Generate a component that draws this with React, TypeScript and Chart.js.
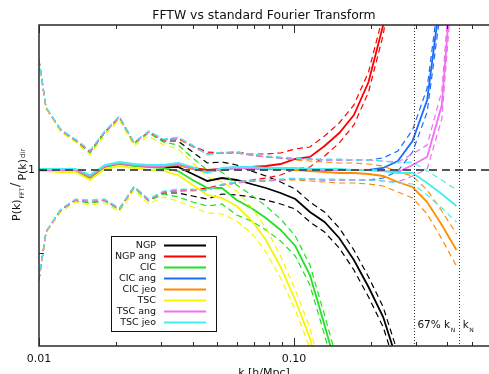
import React, { useEffect, useRef } from "react";
import { Chart, registerables } from "chart.js";

Chart.register(...registerables);

// wavenumbers of the binned spectrum (h/Mpc)
const kValues = [
  0.00934, 0.01066, 0.01217, 0.01389, 0.01586, 0.0181, 0.02066, 0.02359, 0.02693, 0.03074,
  0.03509, 0.04005, 0.04572, 0.05219, 0.05958, 0.06801, 0.07763, 0.08862, 0.1012, 0.1155,
  0.1318, 0.1505, 0.1718, 0.1961, 0.2238, 0.2555, 0.2917, 0.3329, 0.3801, 0.4338,
];

// 1-sigma half width of the ratio (dashed curves)
const errBand = [
  0.16, 0.062, 0.04, 0.03, 0.025, 0.034, 0.046, 0.022, 0.034, 0.026,
  0.026, 0.022, 0.018, 0.016, 0.015, 0.013, 0.012, 0.011, 0.01, 0.01,
  0.01, 0.01, 0.01, 0.01, 0.01, 0.01, 0.011, 0.012, 0.014, 0.016,
];

const ngp = [
  1.0, 1.0, 1.0, 1.0, 0.993, 1.004, 1.007, 1.005, 1.004, 1.003,
  1.003, 0.996, 0.989, 0.992, 0.99, 0.986, 0.982, 0.977, 0.971, 0.958,
  0.948, 0.932, 0.91, 0.883, 0.853, 0.807,
];
const ngpAng = [
  1.0, 1.0, 1.0, 1.0, 0.993, 1.004, 1.007, 1.005, 1.004, 1.004,
  1.005, 1.002, 1.0, 1.001, 1.003, 1.003, 1.004, 1.006, 1.011, 1.013,
  1.024, 1.037, 1.055, 1.088, 1.145, 1.24,
];
const cic = [
  1.0, 1.0, 0.999, 0.999, 0.992, 1.003, 1.006, 1.004, 1.003, 1.002,
  0.999, 0.99, 0.982, 0.982, 0.97, 0.962, 0.952, 0.94, 0.924, 0.895,
  0.845, 0.792,
];
const cicAng = [
  1.0, 1.0, 1.0, 1.0, 0.993, 1.004, 1.007, 1.005, 1.004, 1.004,
  1.006, 1.002, 0.998, 1.001, 1.002, 1.002, 1.001, 1.001, 1.001, 1.001,
  1.0, 1.0, 1.0, 1.0, 1.002, 1.009, 1.029, 1.07, 1.183,
];
const cicJeo = [
  1.0, 1.0, 1.0, 1.0, 0.993, 1.004, 1.007, 1.005, 1.004, 1.004,
  1.005, 1.001, 0.998, 1.001, 1.002, 1.002, 1.001, 1.001, 1.0, 0.999,
  0.998, 0.997, 0.997, 0.996, 0.994, 0.988, 0.983, 0.968, 0.945, 0.92,
];
const tsc = [
  0.999, 0.999, 0.998, 0.998, 0.99, 1.001, 1.004, 1.002, 1.0, 0.999,
  0.995, 0.985, 0.975, 0.972, 0.964, 0.95, 0.93, 0.903, 0.87, 0.832,
  0.775,
];
const tscAng = [
  1.0, 1.0, 1.0, 1.0, 0.994, 1.004, 1.007, 1.005, 1.004, 1.004,
  1.006, 1.002, 0.998, 1.001, 1.002, 1.002, 1.001, 1.001, 1.001, 1.001,
  1.0, 1.0, 1.0, 1.0, 0.999, 0.998, 1.005, 1.013, 1.065, 1.253,
];
const tscJeo = [
  1.001, 1.001, 1.001, 1.001, 0.995, 1.005, 1.008, 1.006, 1.005, 1.005,
  1.007, 1.003, 0.997, 1.002, 1.003, 1.003, 1.002, 1.002, 1.002, 1.001,
  1.001, 1.001, 1.0, 1.0, 0.999, 0.997, 0.997, 0.987, 0.976, 0.964,
];

const seriesNames = ["NGP", "NGP ang", "CIC", "CIC ang", "CIC jeo", "TSC", "TSC ang", "TSC jeo"];
const seriesColors = ["#000000", "#ff0000", "#22e022", "#1a6cff", "#ff8c00", "#f6f600", "#f070f0", "#40f0f0"];
const seriesValues = [ngp, ngpAng, cic, cicAng, cicJeo, tsc, tscAng, tscJeo];

// axis ticks
const xMajorTicks = [0.01, 0.1];
const xMajorLabels = ["0.01", "0.10"];
const xMinorTicks = [0.02, 0.03, 0.04, 0.05, 0.06, 0.07, 0.08, 0.09, 0.2, 0.3, 0.4, 0.5];
const yTicks = [1.0, 0.917];
const yTickLabels = ["1", ""];

const kNyquist = 0.443;
const nyquistFraction = 0.67;

const titleText = "FFTW vs standard Fourier Transform";
const xTitle = "k [h/Mpc]";

const FONT = "'DejaVu Sans', 'Liberation Sans', sans-serif";

const decorPlugin = {
  id: "decor",
  afterDatasetsDraw(chart: any) {
    const ctx = chart.ctx;
    const { left, right, top, bottom } = chart.chartArea;
    const xs = chart.scales.x;
    const ys = chart.scales.y;
    ctx.save();
    const y1 = ys.getPixelForValue(1);
    ctx.strokeStyle = "#555555";
    ctx.lineWidth = 2;
    ctx.setLineDash([8, 5]);
    ctx.beginPath();
    ctx.moveTo(left, y1);
    ctx.lineTo(right, y1);
    ctx.stroke();
    ctx.strokeStyle = "#333333";
    ctx.lineWidth = 1;
    ctx.setLineDash([1, 2]);
    [kNyquist * nyquistFraction, kNyquist].forEach((k) => {
      const x = Math.round(xs.getPixelForValue(k)) + 0.5;
      ctx.beginPath();
      ctx.moveTo(x, top);
      ctx.lineTo(x, bottom);
      ctx.stroke();
    });
    ctx.restore();
  },
  afterDraw(chart: any) {
    const ctx = chart.ctx;
    const { left, right, top, bottom } = chart.chartArea;
    const xs = chart.scales.x;
    const ys = chart.scales.y;
    ctx.save();
    ctx.setLineDash([]);
    ctx.strokeStyle = "#2a2a2a";
    ctx.lineWidth = 1.5;
    ctx.beginPath();
    ctx.moveTo(right, top);
    ctx.lineTo(left, top);
    ctx.lineTo(left, bottom);
    ctx.lineTo(right, bottom);
    ctx.stroke();

    ctx.lineWidth = 1;
    const tick = (k: number, len: number) => {
      const x = Math.round(xs.getPixelForValue(k)) + 0.5;
      ctx.beginPath();
      ctx.moveTo(x, bottom);
      ctx.lineTo(x, bottom - len);
      ctx.moveTo(x, top);
      ctx.lineTo(x, top + len);
      ctx.stroke();
    };
    xMinorTicks.forEach((k) => tick(k, 4));
    xMajorTicks.forEach((k) => tick(k, 8));

    ctx.fillStyle = "#111111";
    ctx.font = `11px ${FONT}`;
    ctx.textAlign = "center";
    ctx.textBaseline = "alphabetic";
    xMajorTicks.forEach((k, i) => {
      ctx.fillText(xMajorLabels[i], xs.getPixelForValue(k), 362);
    });
    ctx.fillText(xTitle, (left + right) / 2, 376);

    yTicks.forEach((v, i) => {
      const y = Math.round(ys.getPixelForValue(v)) + 0.5;
      ctx.beginPath();
      ctx.moveTo(left, y);
      ctx.lineTo(left + (yTickLabels[i] ? 8 : 5), y);
      ctx.stroke();
      if (yTickLabels[i]) {
        ctx.textAlign = "right";
        ctx.textBaseline = "middle";
        ctx.fillText(yTickLabels[i], left - 4, y);
      }
    });

    // title
    ctx.textAlign = "center";
    ctx.textBaseline = "alphabetic";
    ctx.font = `12.4px ${FONT}`;
    ctx.fillText(titleText, (left + right) / 2, 19);

    // y title (rotated)
    ctx.save();
    ctx.rotate(-Math.PI / 2);
    ctx.textAlign = "left";
    let pos = -221;
    ctx.font = `11px ${FONT}`;
    ctx.fillText("P(k)", pos, 20);
    pos += ctx.measureText("P(k)").width + 1;
    ctx.font = `6px ${FONT}`;
    ctx.fillText("FFT", pos, 24);
    pos += ctx.measureText("FFT").width + 1;
    ctx.font = `13px ${FONT}`;
    ctx.fillText("/", pos, 19);
    pos += ctx.measureText("/").width + 2;
    ctx.font = `11px ${FONT}`;
    ctx.fillText("P(k)", pos, 26);
    pos += ctx.measureText("P(k)").width + 1;
    ctx.font = `7px ${FONT}`;
    ctx.fillText("dir", pos, 25);
    ctx.restore();

    // Nyquist labels
    const drawK = (x: number, prefix: string) => {
      ctx.textAlign = "left";
      ctx.font = `10.5px ${FONT}`;
      ctx.fillText(prefix + "k", x, 328);
      const w = ctx.measureText(prefix + "k").width;
      ctx.font = `6px ${FONT}`;
      ctx.fillText("N", x + w + 0.5, 332);
    };
    drawK(xs.getPixelForValue(kNyquist * nyquistFraction) + 3, `${Math.round(nyquistFraction * 100)}% `);
    drawK(xs.getPixelForValue(kNyquist) + 4, "");

    // legend
    const bx = 111, by = 236, bw = 105, bh = 95;
    ctx.fillStyle = "#ffffff";
    ctx.fillRect(bx, by, bw, bh);
    ctx.strokeStyle = "#111111";
    ctx.lineWidth = 1;
    ctx.strokeRect(bx + 0.5, by + 0.5, bw, bh);
    ctx.font = `9.5px ${FONT}`;
    seriesNames.forEach((name, i) => {
      const y = by + 9.5 + i * 11;
      ctx.fillStyle = "#111111";
      ctx.textAlign = "right";
      ctx.textBaseline = "middle";
      ctx.fillText(name, bx + 45, y);
      ctx.strokeStyle = seriesColors[i];
      ctx.lineWidth = 2;
      ctx.beginPath();
      ctx.moveTo(bx + 53, y);
      ctx.lineTo(bx + 95, y);
      ctx.stroke();
    });
    ctx.restore();
  },
};

export default function App() {
  const canvasRef = useRef<HTMLCanvasElement | null>(null);

  useEffect(() => {
    if (!canvasRef.current) return;
    const datasets: any[] = [];
    const total = seriesValues.length * 3;
    seriesValues.forEach((vals, s) => {
      const color = seriesColors[s];
      const solid = vals.map((v, i) => ({ x: kValues[i], y: v }));
      const upper = vals.map((v, i) => ({ x: kValues[i], y: v + errBand[i] }));
      const lower = vals.map((v, i) => ({ x: kValues[i], y: v - errBand[i] }));
      [
        { data: solid, dash: [] as number[], width: 1.8 },
        { data: upper, dash: [6, 4], width: 1.2 },
        { data: lower, dash: [6, 4], width: 1.2 },
      ].forEach((d) => {
        datasets.push({
          label: seriesNames[s],
          data: d.data,
          borderColor: color,
          backgroundColor: color,
          borderWidth: d.width,
          borderDash: d.dash,
          pointRadius: 0,
          fill: false,
          tension: 0,
          order: total - datasets.length,
        });
      });
    });

    const chart = new Chart(canvasRef.current, {
      type: "line",
      data: { datasets },
      options: {
        responsive: false,
        animation: false,
        devicePixelRatio: 1,
        layout: { padding: { left: 39, top: 25, right: 0, bottom: 28 } },
        scales: {
          x: { type: "logarithmic", min: 0.01, max: 0.582, display: false },
          y: { type: "linear", min: 0.824, max: 1.145, display: false },
        },
        plugins: {
          legend: { display: false },
          tooltip: { enabled: false },
        },
        elements: { point: { radius: 0 }, line: { tension: 0 } },
      } as any,
      plugins: [decorPlugin],
    });
    return () => chart.destroy();
  }, []);

  return (
    <div style={{ position: "absolute", left: 0, top: 0, width: 489, height: 374, background: "#ffffff" }}>
      <canvas ref={canvasRef} width={489} height={374} style={{ display: "block" }} />
    </div>
  );
}
